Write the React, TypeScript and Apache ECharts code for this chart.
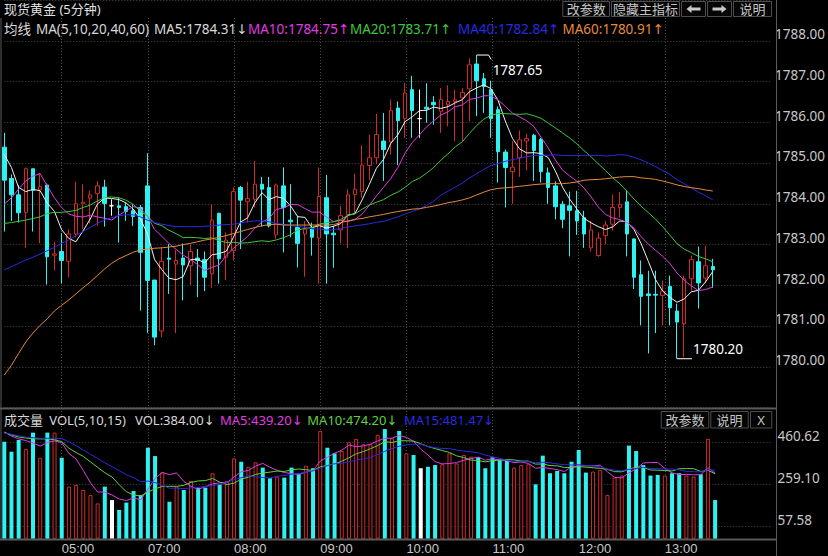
import React, { useEffect, useRef } from 'react';
import * as echarts from 'echarts';

// ---------- data ----------
const sessions = [
  { start: '04:20', count: 20 },
  { start: '07:00', count: 88 },
];

const opens = [
  1785.39, 1784.62, 1784.22, 1783.79, 1784.86, 1784.34, 1784.46, 1782.74, 1782.83, 1782.59,
  1783.26, 1784.00, 1784.14, 1784.25, 1784.41, 1783.95, 1783.95, 1783.93, 1783.83, 1783.91,
  1784.44, 1782.13, 1780.88, 1782.67, 1782.52, 1782.67, 1782.48, 1782.67, 1782.63, 1782.28,
  1783.77, 1782.69, 1782.85, 1784.40, 1784.05, 1784.11, 1784.48, 1784.40, 1783.24, 1784.44,
  1783.60, 1783.42, 1783.26, 1783.38, 1783.16, 1784.15, 1783.28, 1783.36, 1783.73, 1784.23,
  1784.30, 1784.94, 1785.13, 1785.54, 1785.52, 1786.35, 1786.09, 1786.80, 1786.09, 1786.37,
  1786.49, 1786.27, 1786.43, 1786.51, 1786.60, 1786.82, 1787.43, 1787.07, 1786.80, 1786.31,
  1785.27, 1784.79, 1785.13, 1785.54, 1785.68, 1785.58, 1784.76, 1784.44, 1783.99, 1783.95,
  1783.83, 1783.66, 1782.92, 1782.73, 1783.22, 1783.50, 1783.91, 1784.05, 1783.14, 1782.26,
  1781.79, 1781.78, 1781.75, 1781.97, 1781.37, 1781.06, 1782.16, 1782.58, 1782.18, 1782.46,
];
const closes = [
  1784.58, 1784.22, 1783.78, 1784.86, 1784.33, 1784.42, 1782.70, 1782.77, 1782.61, 1783.26,
  1784.00, 1784.04, 1784.22, 1784.44, 1784.01, 1783.95, 1783.91, 1783.81, 1783.69, 1782.81,
  1782.12, 1780.73, 1782.59, 1782.64, 1782.61, 1782.50, 1782.83, 1782.61, 1782.20, 1783.60,
  1782.65, 1783.11, 1784.30, 1784.09, 1784.13, 1784.48, 1784.36, 1783.46, 1784.46, 1783.91,
  1783.56, 1783.03, 1783.38, 1783.18, 1784.18, 1783.26, 1783.24, 1783.71, 1784.22, 1784.36,
  1784.95, 1785.13, 1785.70, 1785.33, 1786.29, 1786.04, 1786.72, 1786.29, 1786.09, 1786.33,
  1786.43, 1786.56, 1786.51, 1786.55, 1786.73, 1787.41, 1787.02, 1786.88, 1786.09, 1785.28,
  1784.89, 1784.90, 1785.57, 1785.60, 1785.31, 1784.79, 1784.40, 1783.93, 1783.62, 1783.84,
  1783.58, 1783.26, 1783.36, 1783.16, 1783.48, 1783.91, 1783.99, 1783.26, 1782.20, 1781.73,
  1781.75, 1781.76, 1781.86, 1781.45, 1781.10, 1782.16, 1782.63, 1782.06, 1782.48, 1782.38,
];
const lows = [
  1783.32, 1783.58, 1783.54, 1782.92, 1783.32, 1783.03, 1782.02, 1782.36, 1782.04, 1782.20,
  1783.18, 1783.38, 1783.52, 1783.46, 1783.44, 1783.71, 1783.05, 1783.58, 1783.46, 1781.38,
  1780.83, 1780.53, 1780.73, 1781.79, 1780.83, 1781.63, 1782.01, 1781.71, 1781.86, 1781.94,
  1782.04, 1782.13, 1782.61, 1782.89, 1783.54, 1783.91, 1783.44, 1783.42, 1783.14, 1782.81,
  1783.18, 1782.44, 1782.21, 1782.73, 1782.04, 1782.04, 1782.43, 1783.03, 1782.92, 1783.75,
  1784.15, 1784.58, 1784.97, 1784.56, 1785.21, 1784.95, 1785.62, 1785.62, 1785.62, 1785.99,
  1785.94, 1785.74, 1785.90, 1785.54, 1785.54, 1786.03, 1786.15, 1786.23, 1785.62, 1784.52,
  1783.91, 1784.00, 1784.66, 1784.82, 1784.56, 1784.52, 1784.00, 1783.62, 1783.40, 1782.71,
  1783.24, 1782.92, 1782.83, 1782.70, 1783.01, 1783.34, 1783.66, 1782.71, 1781.91, 1781.02,
  1780.33, 1780.83, 1781.02, 1781.02, 1780.20, 1780.24, 1781.87, 1781.43, 1782.05, 1781.94,
];
const highs = [
  1785.74, 1784.72, 1784.46, 1784.89, 1784.86, 1784.74, 1784.50, 1783.07, 1783.28, 1783.38,
  1784.54, 1784.48, 1784.33, 1784.56, 1784.59, 1784.11, 1784.15, 1784.03, 1783.99, 1783.97,
  1785.24, 1782.13, 1782.93, 1783.01, 1782.87, 1783.03, 1783.00, 1782.89, 1782.83, 1783.99,
  1783.77, 1783.30, 1784.40, 1784.44, 1784.54, 1785.05, 1784.66, 1784.66, 1784.50, 1784.89,
  1784.48, 1783.71, 1783.58, 1783.54, 1784.89, 1784.71, 1783.46, 1783.95, 1784.36, 1784.74,
  1785.44, 1785.70, 1786.21, 1786.23, 1786.56, 1786.51, 1786.96, 1787.14, 1786.80, 1786.96,
  1786.64, 1786.84, 1786.91, 1786.80, 1786.84, 1787.57, 1787.65, 1787.21, 1787.02, 1786.39,
  1785.33, 1785.54, 1785.80, 1785.72, 1785.72, 1785.62, 1784.89, 1784.55, 1784.07, 1784.30,
  1784.32, 1783.83, 1783.58, 1783.30, 1783.58, 1784.23, 1784.29, 1784.32, 1783.14, 1782.61,
  1782.36, 1782.36, 1782.12, 1782.24, 1781.55, 1782.24, 1782.73, 1782.95, 1782.97, 1782.65,
];
const volumes = [
  464, 416, 472, 429, 507, 387, 507, 507, 387, 249,
  257, 233, 209, 169, 249, 185, 138, 173, 228, 209,
  435, 395, 317, 177, 249, 233, 276, 244, 244, 313,
  260, 276, 384, 368, 344, 365, 340, 289, 297, 292,
  340, 313, 349, 337, 515, 435, 408, 419, 461, 477,
  451, 451, 496, 524, 480, 515, 408, 400, 337, 344,
  352, 356, 408, 360, 400, 392, 389, 337, 389, 376,
  376, 340, 352, 356, 260, 397, 313, 324, 313, 368,
  424, 316, 321, 329, 209, 292, 302, 445, 419, 352,
  302, 305, 302, 313, 313, 302, 297, 308, 477, 185,
];

// moving-average values for bars whose window starts before the visible range
const ma5Head = [1785.21, 1784.89, 1784.40, 1784.30];
const ma10Head = [1783.99, 1784.15, 1784.36, 1784.56, 1784.68, 1784.74, 1784.44, 1784.15, 1783.91];
const ma20Head = [
  1783.52, 1783.54, 1783.57, 1783.60, 1783.64, 1783.68, 1783.76, 1783.79, 1783.79, 1783.81,
  1783.84, 1783.91, 1783.97, 1784.07, 1784.15, 1784.17, 1784.15, 1784.09, 1783.99,
];
const ma40Head = [
  1782.38, 1782.46, 1782.54, 1782.62, 1782.69, 1782.77, 1782.85, 1782.93, 1783.03, 1783.11,
  1783.22, 1783.32, 1783.42, 1783.52, 1783.60, 1783.66, 1783.71, 1783.73, 1783.73, 1783.68,
  1783.60, 1783.54, 1783.50, 1783.47, 1783.44, 1783.44, 1783.44, 1783.44, 1783.45, 1783.46,
  1783.48, 1783.49, 1783.50, 1783.53, 1783.56, 1783.58, 1783.58, 1783.56, 1783.52,
];
const ma60Head = [
  1779.80, 1780.04, 1780.33, 1780.61, 1780.83, 1781.02, 1781.18, 1781.37, 1781.51, 1781.64,
  1781.79, 1781.94, 1782.08, 1782.24, 1782.40, 1782.54, 1782.65, 1782.73, 1782.81, 1782.87,
  1782.89, 1782.91, 1782.92, 1782.94, 1782.96, 1783.00, 1783.03, 1783.07, 1783.11, 1783.14,
  1783.18, 1783.22, 1783.27, 1783.32, 1783.37, 1783.42, 1783.46, 1783.49, 1783.50, 1783.48,
  1783.48, 1783.48, 1783.48, 1783.48, 1783.48, 1783.48, 1783.49, 1783.54, 1783.58, 1783.62,
  1783.64, 1783.68, 1783.71, 1783.74, 1783.78, 1783.81, 1783.84, 1783.87, 1783.88,
];
const vma5Head = [510, 491, 477, 469];
const vma10Head = [508, 496, 486, 481, 478, 477, 477, 473, 464];
const vma15Head = [504, 499, 492, 486, 483, 480, 480, 480, 478, 464, 445, 424, 403, 384];

const volTickLabels = ['57.58', '259.10', '460.62'];
const volTickValues = [57.58, 259.1, 460.62];

const titleText = '现货黄金 (5分钟)';
const maRow = [
  { t: '均线', x: 4, c: '#d8d8d8' },
  { t: 'MA(5,10,20,40,60)', x: 36, c: '#d8d8d8' },
  { t: 'MA5:1784.31↓', x: 154, c: '#d8d8d8' },
  { t: 'MA10:1784.75↑', x: 248, c: '#e03ce0' },
  { t: 'MA20:1783.71↑', x: 350, c: '#3cc83c' },
  { t: 'MA40:1782.84↑', x: 458, c: '#2a2ae0' },
  { t: 'MA60:1780.91↑', x: 562.5, c: '#e68a3c' },
];
const volRow = [
  { t: '成交量', x: 4, c: '#d8d8d8' },
  { t: 'VOL(5,10,15)', x: 49.3, c: '#d8d8d8' },
  { t: 'VOL:384.00↓', x: 135, c: '#d8d8d8' },
  { t: 'MA5:439.20↓', x: 220, c: '#e03ce0' },
  { t: 'MA10:474.20↓', x: 307.3, c: '#60d040' },
  { t: 'MA15:481.47↓', x: 404, c: '#2a2ae0' },
];
const topButtons = [
  { t: '改参数', x: 562.3, w: 47.7 },
  { t: '隐藏主指标', x: 611, w: 69 },
  { t: '<', x: 681, w: 25 },
  { t: '>', x: 707, w: 25 },
  { t: '说明', x: 733, w: 39 },
];
const volButtons = [
  { t: '改参数', x: 660.7, w: 48.6 },
  { t: '说明', x: 710.3, w: 38.4 },
  { t: 'X', x: 750, w: 22.3 },
];

// ---------- helpers ----------
function buildTimes(): string[] {
  const out: string[] = [];
  sessions.forEach((s) => {
    const [h, m] = s.start.split(':').map(Number);
    let t = h * 60 + m;
    for (let i = 0; i < s.count; i++) {
      const hh = Math.floor(t / 60) % 24;
      const mm = t % 60;
      out.push(String(hh).padStart(2, '0') + ':' + String(mm).padStart(2, '0'));
      t += 5;
    }
  });
  return out;
}
function movingAvg(values: number[], n: number, head: number[]): number[] {
  return values.map((_, i) => {
    if (i < n - 1) return head[i];
    let s = 0;
    for (let k = i - n + 1; k <= i; k++) s += values[k];
    return +(s / n).toFixed(3);
  });
}

// ---------- layout ----------
const W = 828;
const H = 556;
const X0 = 4.3;
const STEP = 7.18;
const GRID_W = STEP * (sessions[0].count + sessions[1].count - 1);
const PX_PER_UNIT = 40.94;
const Y_1780 = 366.7;
const PRICE_MIN = 1779;
const PRICE_MAX = 1789;
const PRICE_TOP = Y_1780 - (PRICE_MAX - 1780) * PX_PER_UNIT;
const PRICE_H = (PRICE_MAX - PRICE_MIN) * PX_PER_UNIT;
const VOL_BOTTOM = 538.8;
const VOL_PER_PX = 4.775;
const VOL_MAX = 530;
const VOL_H = VOL_MAX / VOL_PER_PX;
const FONT = "'Noto Sans', 'DejaVu Sans', 'Noto Sans CJK SC', sans-serif";
const TIME_FONT = "'Liberation Sans', 'Noto Sans', sans-serif";

const UP = '#d22a2a';
const DOWN = '#2ef2f2';
const FLAT = '#ffffff';
const GRID_LINE = '#4a4a4a';
const FRAME = '#5a5a5a';
const LABEL = '#c8c8c8';

export default function App() {
  const ref = useRef<HTMLDivElement>(null);
  useEffect(() => {
    document.body.style.margin = '0';
    document.body.style.background = '#000';
    const el = ref.current!;
    const chart = echarts.init(el, null, { renderer: 'svg', width: W, height: H });
    const times = buildTimes();

    const ma5 = movingAvg(closes, 5, ma5Head);
    const ma10 = movingAvg(closes, 10, ma10Head);
    const ma20 = movingAvg(closes, 20, ma20Head);
    const ma40 = movingAvg(closes, 40, ma40Head);
    const ma60 = movingAvg(closes, 60, ma60Head);
    const vma5 = movingAvg(volumes, 5, vma5Head);
    const vma10 = movingAvg(volumes, 10, vma10Head);
    const vma15 = movingAvg(volumes, 15, vma15Head);

    const candleData = opens.map((o, i) => {
      const item: any = { value: [o, closes[i], lows[i], highs[i]] };
      if (o === closes[i]) {
        item.itemStyle = { color: FLAT, color0: FLAT, borderColor: FLAT, borderColor0: FLAT };
      }
      return item;
    });
    const volData = volumes.map((v, i) => {
      const up = closes[i] > opens[i];
      const flat = closes[i] === opens[i];
      return {
        value: v,
        itemStyle: flat
          ? { color: FLAT, borderColor: FLAT, borderWidth: 0 }
          : up
          ? { color: '#000', borderColor: UP, borderWidth: 1 }
          : { color: DOWN, borderColor: DOWN, borderWidth: 0 },
      };
    });

    const volY = (v: number) => VOL_BOTTOM - v / VOL_PER_PX;
    const volLblTop = volY(volTickValues[2]);
    const volLblH = volY(volTickValues[0]) - volLblTop;

    const nBars = opens.length;
    const hourFilter = (i: number, v: string) => i < nBars && v.endsWith(':00');
    const hiddenCat = (gridIndex: number) => ({
      type: 'category', gridIndex, data: times, boundaryGap: false, show: false,
    });
    const lineSeries = (data: number[], color: string, xi: number, yi: number) => ({
      type: 'line', data, xAxisIndex: xi, yAxisIndex: yi, showSymbol: false, symbol: 'none',
      lineStyle: { color, width: 1 }, itemStyle: { color }, silent: true, z: 3,
    });

    chart.setOption({
      animation: false,
      backgroundColor: '#000',
      grid: [
        { left: X0, top: PRICE_TOP, width: GRID_W, height: PRICE_H },
        { left: X0, top: VOL_BOTTOM - VOL_H, width: GRID_W, height: VOL_H },
        { left: X0, top: volLblTop, width: GRID_W, height: volLblH },
        { left: X0, top: 18, width: GRID_W, height: VOL_BOTTOM - 18 },
      ],
      xAxis: [
        hiddenCat(0),
        {
          type: 'category', gridIndex: 1, data: times, boundaryGap: false,
          axisLine: { show: false }, axisTick: { show: false }, splitLine: { show: false },
          axisLabel: {
            interval: hourFilter, align: 'left', margin: 3.5, lineHeight: 12, color: LABEL,
            fontSize: 13, fontFamily: TIME_FONT,
          },
        },
        hiddenCat(2),
        {
          type: 'category', gridIndex: 3, data: times, boundaryGap: false,
          axisLine: { show: false }, axisTick: { show: false }, axisLabel: { show: false },
          splitLine: { show: true, interval: hourFilter, lineStyle: { color: GRID_LINE, type: [1, 2], width: 1 } },
        },
      ],
      yAxis: [
        {
          type: 'value', gridIndex: 0, min: PRICE_MIN, max: PRICE_MAX, interval: 1, position: 'right',
          axisLine: { show: false }, axisTick: { show: false },
          axisLabel: {
            showMinLabel: false, showMaxLabel: false, formatter: (v: number) => v.toFixed(2),
            margin: 5, verticalAlign: 'bottom', color: LABEL, fontSize: 13.5, fontFamily: FONT,
          },
          splitLine: { show: true, lineStyle: { color: GRID_LINE, type: [1, 2], width: 1 } },
        },
        { type: 'value', gridIndex: 1, min: 0, max: VOL_MAX, show: false, splitLine: { show: false } },
        {
          type: 'value', gridIndex: 2, min: 0, max: volTickLabels.length - 1, interval: 1, position: 'right',
          axisLine: { show: false }, axisTick: { show: false },
          axisLabel: {
            formatter: (v: number) => volTickLabels[Math.round(v)], margin: 5, verticalAlign: 'bottom',
            color: LABEL, fontSize: 13.5, fontFamily: FONT,
          },
          splitLine: { show: true, lineStyle: { color: GRID_LINE, type: [1, 2], width: 1 } },
        },
        { type: 'value', gridIndex: 3, min: 0, max: 1, show: false, splitLine: { show: false } },
      ],
      series: [
        {
          type: 'candlestick', xAxisIndex: 0, yAxisIndex: 0, data: candleData, barWidth: 4, clip: false,
          itemStyle: { color: '#000', color0: DOWN, borderColor: UP, borderColor0: DOWN, borderWidth: 1 },
          silent: true, z: 2,
        },
        lineSeries(ma5, '#f2f2f2', 0, 0),
        lineSeries(ma10, '#e03ce0', 0, 0),
        lineSeries(ma20, '#3cc83c', 0, 0),
        lineSeries(ma40, '#2a2ae0', 0, 0),
        lineSeries(ma60, '#e68a3c', 0, 0),
        {
          type: 'bar', xAxisIndex: 1, yAxisIndex: 1, data: volData, barWidth: 4, clip: false, silent: true, z: 2,
        },
        lineSeries(vma5, '#e03ce0', 1, 1),
        lineSeries(vma10, '#60d040', 1, 1),
        lineSeries(vma15, '#2a2ae0', 1, 1),
      ],
    });

    // extreme markers positioned through the chart's own scales
    const hiVal = Math.max(...highs);
    const loVal = Math.min(...lows);
    const hiIdx = highs.indexOf(hiVal);
    const loIdx = lows.indexOf(loVal);
    const hp = chart.convertToPixel({ gridIndex: 0 } as any, [hiIdx, hiVal]) as number[];
    const lp = chart.convertToPixel({ gridIndex: 0 } as any, [loIdx, loVal]) as number[];

    const txt = (t: string, x: number, y: number, fill: string, size: number, extra: any = {}) => ({
      type: 'text', x, y, silent: true, z: 50,
      style: { text: t, fill, font: `${size}px ${FONT}`, textVerticalAlign: 'middle', ...extra },
    });
    const line = (x1: number, y1: number, x2: number, y2: number, stroke: string, lw = 1) => ({
      type: 'line', silent: true, z: 40, shape: { x1, y1, x2, y2 }, style: { stroke, lineWidth: lw },
    });
    const button = (b: { t: string; x: number; w: number }, y: number, h: number) => {
      const els: any[] = [
        { type: 'rect', z: 45, silent: true, shape: { x: b.x + 0.5, y: y + 0.5, width: b.w - 1, height: h - 1 },
          style: { fill: '#050505', stroke: '#4e4e4e', lineWidth: 1 } },
      ];
      const cx = b.x + b.w / 2;
      const cy = y + h / 2;
      if (b.t === '<' || b.t === '>') {
        const d = b.t === '<' ? -1 : 1;
        els.push({
          type: 'polygon', z: 46, silent: true,
          shape: { points: [
            [cx + d * 7, cy], [cx + d * 2, cy - 4], [cx + d * 2, cy - 1.5], [cx - d * 7, cy - 1.5],
            [cx - d * 7, cy + 1.5], [cx + d * 2, cy + 1.5], [cx + d * 2, cy + 4],
          ] },
          style: { fill: '#c8c8c8' },
        });
      } else {
        els.push(txt(b.t, cx, cy, '#c4c4c4', 13, { textAlign: 'center' }));
      }
      return els;
    };

    const graphics: any[] = [
      // frame
      line(1, 18, 1, 540, FRAME),
      line(776.5, 0, 776.5, 556, FRAME),
      line(0, 408.5, 777, 408.5, FRAME, 2),
      line(0, 539.5, 777, 539.5, FRAME, 2),
      // title + MA rows
      txt(titleText, 4, 9, '#e0e0e0', 13),
      ...maRow.map((s) => txt(s.t, s.x, 28.5, s.c, 13.5)),
      ...volRow.map((s) => txt(s.t, s.x, 420, s.c, 13)),
      ...topButtons.flatMap((b) => button(b, 1, 16)),
      ...volButtons.flatMap((b) => button(b, 411, 17.5)),
      // high marker
      {
        type: 'polyline', silent: true, z: 40,
        shape: { points: [[hp[0], hp[1]], [hp[0] + 12, hp[1]], [hp[0] + 14.5, hp[1] + 4.5]] },
        style: { stroke: '#ffffff', lineWidth: 1, fill: null },
      },
      txt(hiVal.toFixed(2), hp[0] + 16, hp[1] + 15, '#ffffff', 13.5),
      // low marker
      line(lp[0], lp[1], lp[0] + 15, lp[1], '#ffffff'),
      txt(loVal.toFixed(2), lp[0] + 16, lp[1] - 9.5, '#ffffff', 13.5),
    ];
    chart.setOption({ graphic: graphics });

    return () => chart.dispose();
  }, []);

  return (
    <div
      ref={ref}
      style={{ position: 'fixed', left: 0, top: 0, width: W, height: H, background: '#000' }}
    />
  );
}
